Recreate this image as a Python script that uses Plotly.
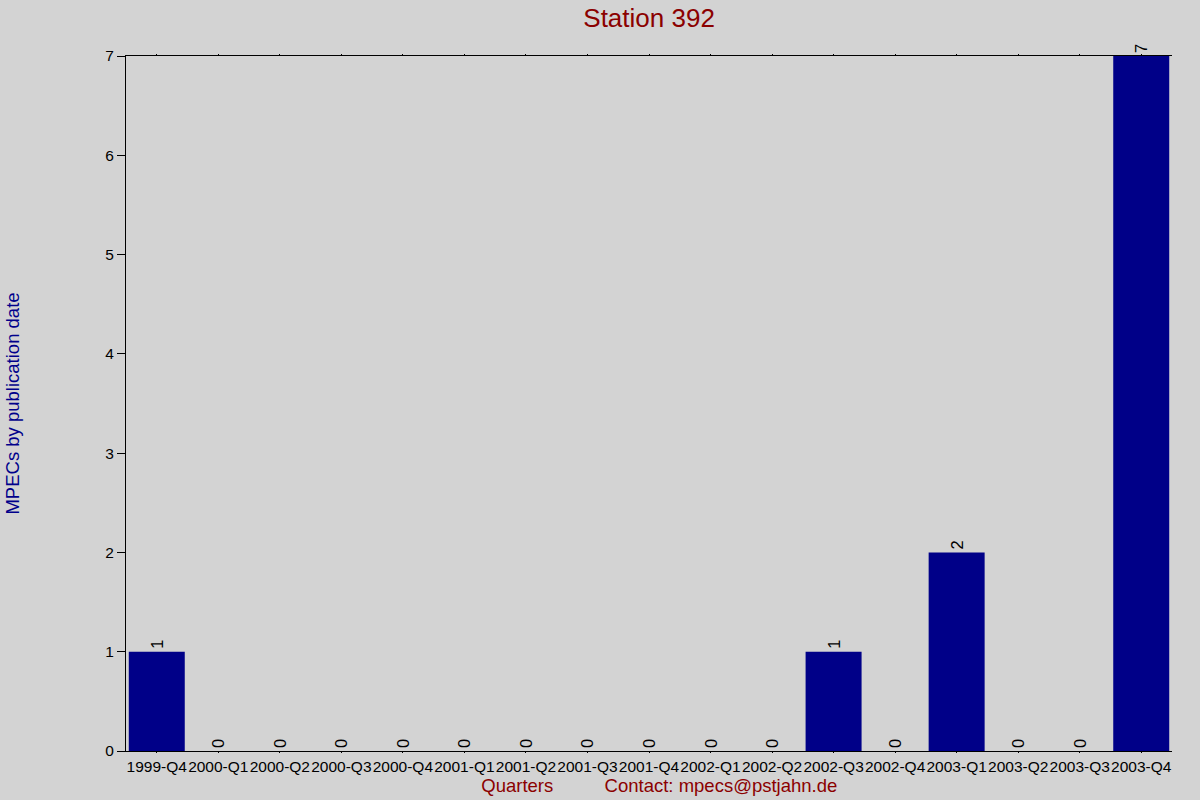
import plotly.graph_objects as go

# quarterly MPEC counts for station 392
quarters = ["1999-Q4", "2000-Q1", "2000-Q2", "2000-Q3", "2000-Q4",
            "2001-Q1", "2001-Q2", "2001-Q3", "2001-Q4",
            "2002-Q1", "2002-Q2", "2002-Q3", "2002-Q4",
            "2003-Q1", "2003-Q2", "2003-Q3", "2003-Q4"]
counts = [1, 0, 0, 0, 0, 0, 0, 0, 0, 0, 0, 1, 0, 2, 0, 0, 7]
y_ticks = [0, 1, 2, 3, 4, 5, 6, 7]

font = "Liberation Sans, Arial, sans-serif"

fig = go.Figure(go.Bar(
    x=quarters, y=counts,
    marker=dict(color="#000088", line=dict(width=0)),
    text=[str(c) for c in counts],
    textposition="outside", textangle=-90,
    textfont=dict(size=16.5, color="#000000", family=font),
    cliponaxis=False,
))

fig.update_layout(
    width=1200, height=800,
    paper_bgcolor="#d3d3d3", plot_bgcolor="#d3d3d3",
    margin=dict(l=126, r=28, t=56, b=49, autoexpand=False),
    bargap=0.09,
    showlegend=False,
    font=dict(family=font, size=15, color="#000000"),
    title=dict(text="Station 392", x=0.5409, xanchor="center", y=0.989, yanchor="top",
               font=dict(size=26, color="#8b0000", family=font)),
)

fig.update_xaxes(
    type="category", showgrid=False, zeroline=False, automargin=False,
    showline=True, linecolor="#000000", linewidth=1,
    ticks="outside", ticklen=1, tickcolor="#000000", mirror="ticks",
    tickangle=0, tickfont=dict(size=15.5, color="#000000"),
    title=dict(text="&nbsp;&nbsp;&nbsp;&nbsp;Quarters" + "&nbsp;" * 10 + "Contact: mpecs@pstjahn.de",
               font=dict(size=18.5, color="#8b0000"), standoff=2),
)

fig.update_yaxes(
    range=[0, 7], tickvals=y_ticks, showgrid=False, zeroline=False, automargin=False,
    showline=True, linecolor="#000000", linewidth=1,
    ticks="outside", ticklen=8, tickcolor="#000000",
    tickfont=dict(size=15.5, color="#000000"),
    title=dict(text="MPECs by publication date",
               font=dict(size=18.5, color="#00008b"), standoff=80),
)

fig.write_html("out.html", config={"displayModeBar": False},
               post_script="document.body.style.margin='0';")
